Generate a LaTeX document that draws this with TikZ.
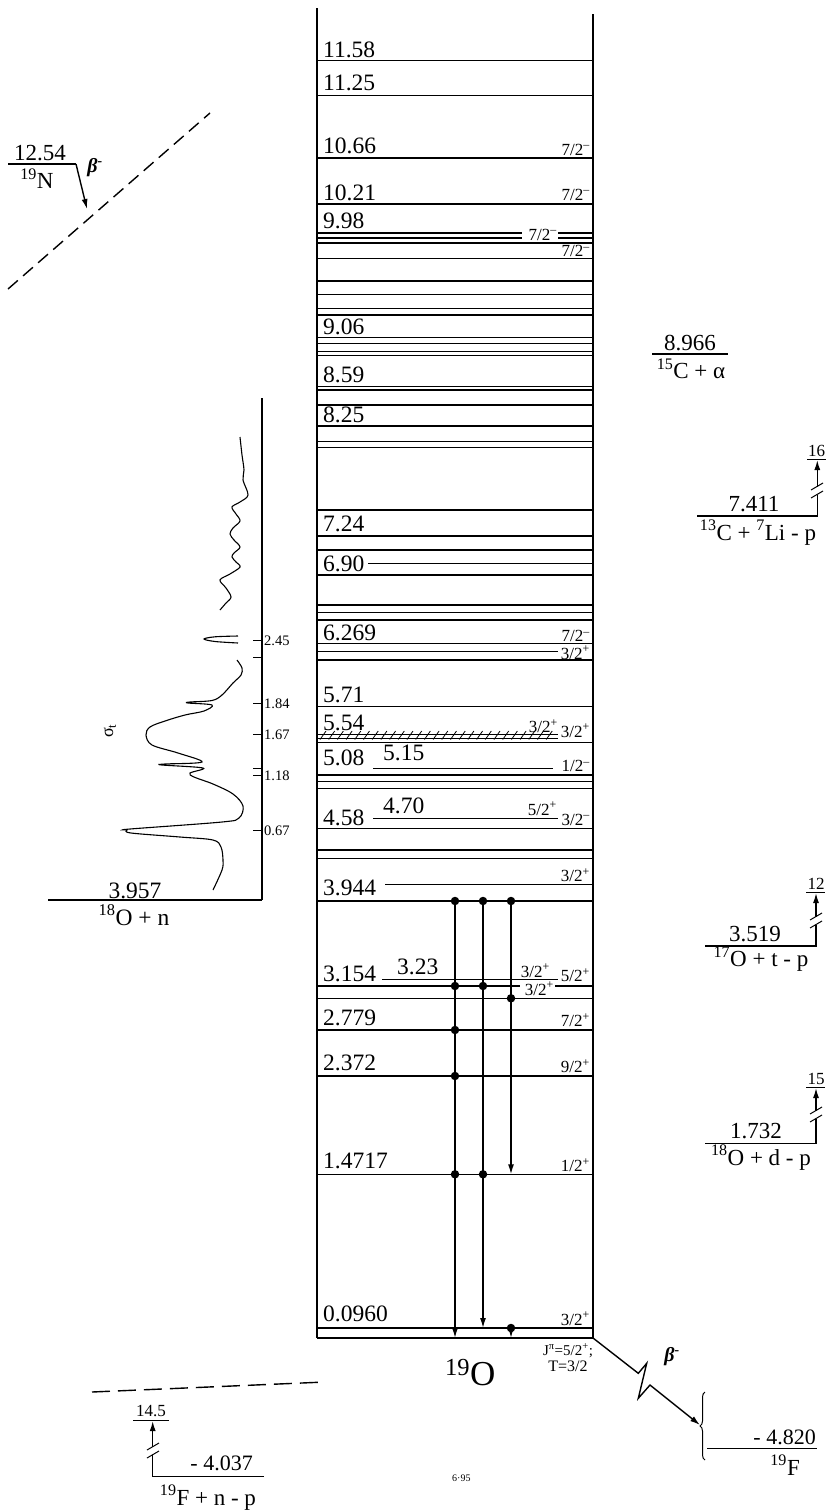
\documentclass[tikz,border=0pt]{standalone}
\usepackage{fontspec}
\setmainfont{Liberation Serif}
\usetikzlibrary{arrows.meta,decorations.pathreplacing}
\newcommand\fsz[1]{\fontsize{#1}{#1}\selectfont}
\newcommand\supx[1]{\textsuperscript{#1}}
\begin{document}
\begin{tikzpicture}[x=1pt,y=-1pt,
  lev/.style={line width=1.4pt},
  thin lev/.style={line width=1pt},
  elab/.style={font=\fsz{23.5},anchor=base west,inner sep=0pt},
  erab/.style={font=\fsz{23},anchor=base east,inner sep=0pt},
  jr/.style={font=\fsz{17},anchor=base east,inner sep=0pt},
  tick lab/.style={font=\fsz{14.5},anchor=base west,inner sep=0pt},
  thr lab/.style={font=\fsz{17},anchor=base,inner sep=0pt},
  tip/.style={-{Latex[length=10pt,width=6pt]}},
  dot/.style={circle,fill,inner sep=0pt,minimum size=8.5pt},
  curve/.style={line width=1.1pt,smooth,tension=0.55}
]
\useasboundingbox (0,0) rectangle (833,1510);

% ---------- box of 19O ----------
\draw[lev] (317,8) -- (317,1338);
\draw[lev] (593,14) -- (593,1338);

% full-width levels
\foreach \y in {60.5,95.7,158,204,243,258.3,281,294.5,308.3,315,337.7,343.3,351.7,355.7,386.7,390,405,426,441.7,447.3,510,536,550,575,605,612.3,620,643.3,660,706.7,742.3,775,781.7,788.3,828.3,850,858.3,901,998.3,1030,1076,1174.3,1328,1338}
  \draw[lev] (317,\y) -- (593,\y);

% levels with a gap for a label
\draw[lev] (317,233) -- (522,233) (558,233) -- (593,233);
\draw[lev] (317,238) -- (522,238) (558,238) -- (593,238);
\draw[lev] (317,986) -- (520,986) (555,986) -- (593,986);
% short levels
\draw[lev] (317,651.7) -- (558,651.7);
\draw[lev] (368,563.3) -- (593,563.3);
\draw[lev] (373,768.3) -- (553,768.3);
\draw[lev] (373,818.3) -- (558,818.3);
\draw[lev] (385,884.3) -- (593,884.3);
\draw[lev] (382,979.3) -- (558,979.3);
% hatched level 5.54
\draw[thin lev] (317,734) -- (558,734);
\draw[thin lev] (317,738) -- (558,738);
\foreach \x in {320,328.7,...,552}
  \draw[line width=0.8pt] (\x,739.5) -- (\x+6,731);

% energies
\node[elab] at (323,57) {11.58};
\node[elab] at (323,90) {11.25};
\node[elab] at (323,153) {10.66};
\node[elab] at (323,200) {10.21};
\node[elab] at (323,228) {9.98};
\node[elab] at (323,334) {9.06};
\node[elab] at (323,382.7) {8.59};
\node[elab] at (323,422.7) {8.25};
\node[elab] at (323,531.7) {7.24};
\node[elab] at (323,571) {6.90};
\node[elab] at (323,640) {6.269};
\node[elab] at (323,702.3) {5.71};
\node[elab] at (323,730) {5.54};
\node[elab] at (323,765) {5.08};
\node[elab] at (383,760) {5.15};
\node[elab] at (323,825) {4.58};
\node[elab] at (383,813.3) {4.70};
\node[elab] at (323,895) {3.944};
\node[elab] at (323,981.7) {3.154};
\node[elab] at (397,974) {3.23};
\node[elab] at (323,1025) {2.779};
\node[elab] at (323,1070.7) {2.372};
\node[elab] at (323,1168.3) {1.4717};
\node[elab] at (323,1321.7) {0.0960};

% spins
\node[jr] at (590,155) {7/2\supx{–}};
\node[jr] at (590,200) {7/2\supx{–}};
\node[jr] at (557,240) {7/2\supx{–}};
\node[jr] at (590,256.7) {7/2\supx{–}};
\node[jr] at (590,641.7) {7/2\supx{–}};
\node[jr] at (590,659) {3/2\supx{+}};
\node[jr] at (558,732.7) {3/2\supx{+}};
\node[jr] at (590,737) {3/2\supx{+}};
\node[jr] at (590,771.7) {1/2\supx{–}};
\node[jr] at (557,815) {5/2\supx{+}};
\node[jr] at (590,825) {3/2\supx{–}};
\node[jr] at (590,881.7) {3/2\supx{+}};
\node[jr] at (550,977) {3/2\supx{+}};
\node[jr] at (590,981.7) {5/2\supx{+}};
\node[jr] at (554,995) {3/2\supx{+}};
\node[jr] at (590,1026.7) {7/2\supx{+}};
\node[jr] at (590,1072.7) {9/2\supx{+}};
\node[jr] at (590,1171.7) {1/2\supx{+}};
\node[jr] at (590,1325) {3/2\supx{+}};

% gamma transitions
\draw[lev,tip] (455,901) -- (455,1338);
\draw[lev,tip] (483,901) -- (483,1328);
\draw[lev,tip] (511,901) -- (511,1174.3);
\draw[lev,tip] (511,1328) -- (511,1338);
\foreach \p in {(455,901),(483,901),(511,901),(455,986),(483,986),(511,998.3),(455,1030),(455,1076),(455,1174.3),(483,1174.3),(511,1328)}
  \node[dot] at \p {};

% 19O labels
\node[font=\fsz{35},anchor=base west,inner sep=0pt] (nuc) at (445,1385) {\supx{19}O};
\node[font=\fsz{15},anchor=base,inner sep=0pt] (jpi) at (568,1355) {J\supx{π}=5/2\supx{+};};
\node[font=\fsz{16},anchor=base,inner sep=0pt] (tiso) at (568,1371.7) {T=3/2};
\node[font=\fsz{10},anchor=base west,inner sep=0pt] (code) at (452,1481) {6·95};

% beta decay to 19F
\coordinate (gs) at (593,1338);
\coordinate (brtip) at (700,1425);
\draw[lev,tip] (gs) -- (638.3,1373.3) -- (646.7,1363.3) -- (638.3,1398.3) -- (650,1385) -- (brtip);
\node[font=\bfseries\itshape\fsz{20},inner sep=0pt] (bmin) at (672,1357) {β\supx{-}};
\draw[line width=1pt,decorate,decoration={brace,amplitude=5pt}] (705,1460) -- (705,1392);
\draw[lev] (707,1448.3) -- (817,1448.3);
\node[erab,font=\fsz{22}] (f19e) at (816,1444) {- 4.820};
\node[erab,font=\fsz{23}] (f19) at (800,1475) {\supx{19}F};

% 19N beta decay (top left)
\draw[lev] (8,164) -- (76,164);
\node[font=\fsz{23},anchor=base,inner sep=0pt] (n19e) at (40,160) {12.54};
\node[font=\fsz{23},anchor=base,inner sep=0pt] (n19) at (37,188.3) {\supx{19}N};
\draw[lev,tip] (76,164) -- (87,209);
\node[font=\bfseries\itshape\fsz{20},inner sep=0pt] (bmin2) at (95,168) {β\supx{-}};
\draw[lev,dash pattern=on 13pt off 7pt] (8,289) -- (210,113);

% 18O + n with cross section
\draw[lev] (262,398) -- (262,900);
\draw[lev] (48,900) -- (262,900);
\node[font=\fsz{23.5},anchor=base,inner sep=0pt] (on) at (135,898) {3.957};
\node[font=\fsz{23.5},anchor=base,inner sep=0pt] (onr) at (134,925) {\supx{18}O + n};
\foreach \y in {640,657.7,703.3,734,768.3,775,830}
  \draw[line width=1pt] (253,\y) -- (262,\y);
\node[tick lab] at (264,645) {2.45};
\node[tick lab] at (264,708.3) {1.84};
\node[tick lab] at (264,739) {1.67};
\node[tick lab] at (264,780) {1.18};
\node[tick lab] at (264,835) {0.67};
\node[font=\fsz{18},rotate=90,inner sep=0pt] (sig) at (110,731) {σ\textsubscript{t}};
\draw[curve] plot coordinates {(240,437) (242,455) (244,470) (243,480) (248,495) (240,502) (232,507) (236,514) (240,521) (233,528) (230,534) (234,540) (240,547) (234,553) (232,557) (236,562) (240,567) (230,574) (220,580) (226,588) (231,597) (226,603) (220,610)};
\draw[curve] plot coordinates {(238,636) (215,636.8) (204,639) (215,641.5) (238,643)};
\draw[curve] plot coordinates {(237,660) (242,668) (241,675) (233,683) (222,695) (212,700.5) (190,702) (188,703) (212,705) (204,711) (185,715) (165,721) (150,727) (146,735) (152,745) (178,753) (202,762) (165,764) (162,765) (203,768) (190,773) (194,777) (213,784) (233,794) (243,806) (239,818) (222,822) (130,829) (127,830) (131,833) (180,837) (213,840) (221,847) (223,860) (222,870) (213,890)};

% 15C + alpha
\draw[lev] (652,354) -- (728,354);
\node[font=\fsz{23},anchor=base,inner sep=0pt] (ca) at (690,350) {8.966};
\node[font=\fsz{23},anchor=base,inner sep=0pt] (car) at (691,378.3) {\supx{15}C + α};

% 13C + 7Li - p
\draw[lev] (697,516) -- (817.3,516) -- (817.3,494.5);
\draw[lev,tip] (817.3,486.5) -- (817.3,460);
\draw[line width=1pt] (811,498) -- (823,491) (811,490) -- (823,483);
\draw[line width=1pt] (807,459.5) -- (826,459.5);
\node[thr lab] (t16) at (816.5,456) {16};
\node[font=\fsz{23},anchor=base,inner sep=0pt] (cli) at (754,511.7) {7.411};
\node[font=\fsz{23},anchor=base,inner sep=0pt] (clir) at (758,540) {\supx{13}C + \supx{7}Li - p};

% 17O + t - p
\draw[lev] (705,946) -- (816,946) -- (816,925);
\draw[lev,tip] (816,917) -- (816,893);
\draw[line width=1pt] (810,928) -- (822,921) (810,920) -- (822,913);
\draw[line width=1pt] (806,892.5) -- (825,892.5);
\node[thr lab] (t12) at (816,889) {12};
\node[font=\fsz{23},anchor=base,inner sep=0pt] (ot) at (755,941.7) {3.519};
\node[font=\fsz{23},anchor=base,inner sep=0pt] (otr) at (761,966.7) {\supx{17}O + t - p};

% 18O + d - p
\draw[lev] (705,1143.3) -- (816,1143.3) -- (816,1119);
\draw[lev,tip] (816,1111) -- (816,1088);
\draw[line width=1pt] (810,1122) -- (822,1115) (810,1114) -- (822,1107);
\draw[line width=1pt] (806,1087.5) -- (825,1087.5);
\node[thr lab] (t15) at (816,1084) {15};
\node[font=\fsz{23},anchor=base,inner sep=0pt] (od) at (756,1138.3) {1.732};
\node[font=\fsz{23},anchor=base,inner sep=0pt] (odr) at (761,1165) {\supx{18}O + d - p};

% 19F + n - p
\draw[lev,dash pattern=on 18pt off 8pt] (92,1392) -- (325,1382);
\draw[lev] (264,1476.7) -- (152.7,1476.7) -- (152.7,1455);
\draw[lev,tip] (152.7,1447) -- (152.7,1421);
\draw[line width=1pt] (147,1458) -- (159,1451) (147,1450) -- (159,1443);
\draw[line width=1pt] (133,1420.5) -- (169,1420.5);
\node[thr lab] (t145) at (151,1416) {14.5};
\node[font=\fsz{22},anchor=base east,inner sep=0pt] (fnp) at (253,1470.7) {- 4.037};
\node[font=\fsz{23},anchor=base,inner sep=0pt] (fnpr) at (208,1505) {\supx{19}F + n - p};
\end{tikzpicture}
\end{document}
